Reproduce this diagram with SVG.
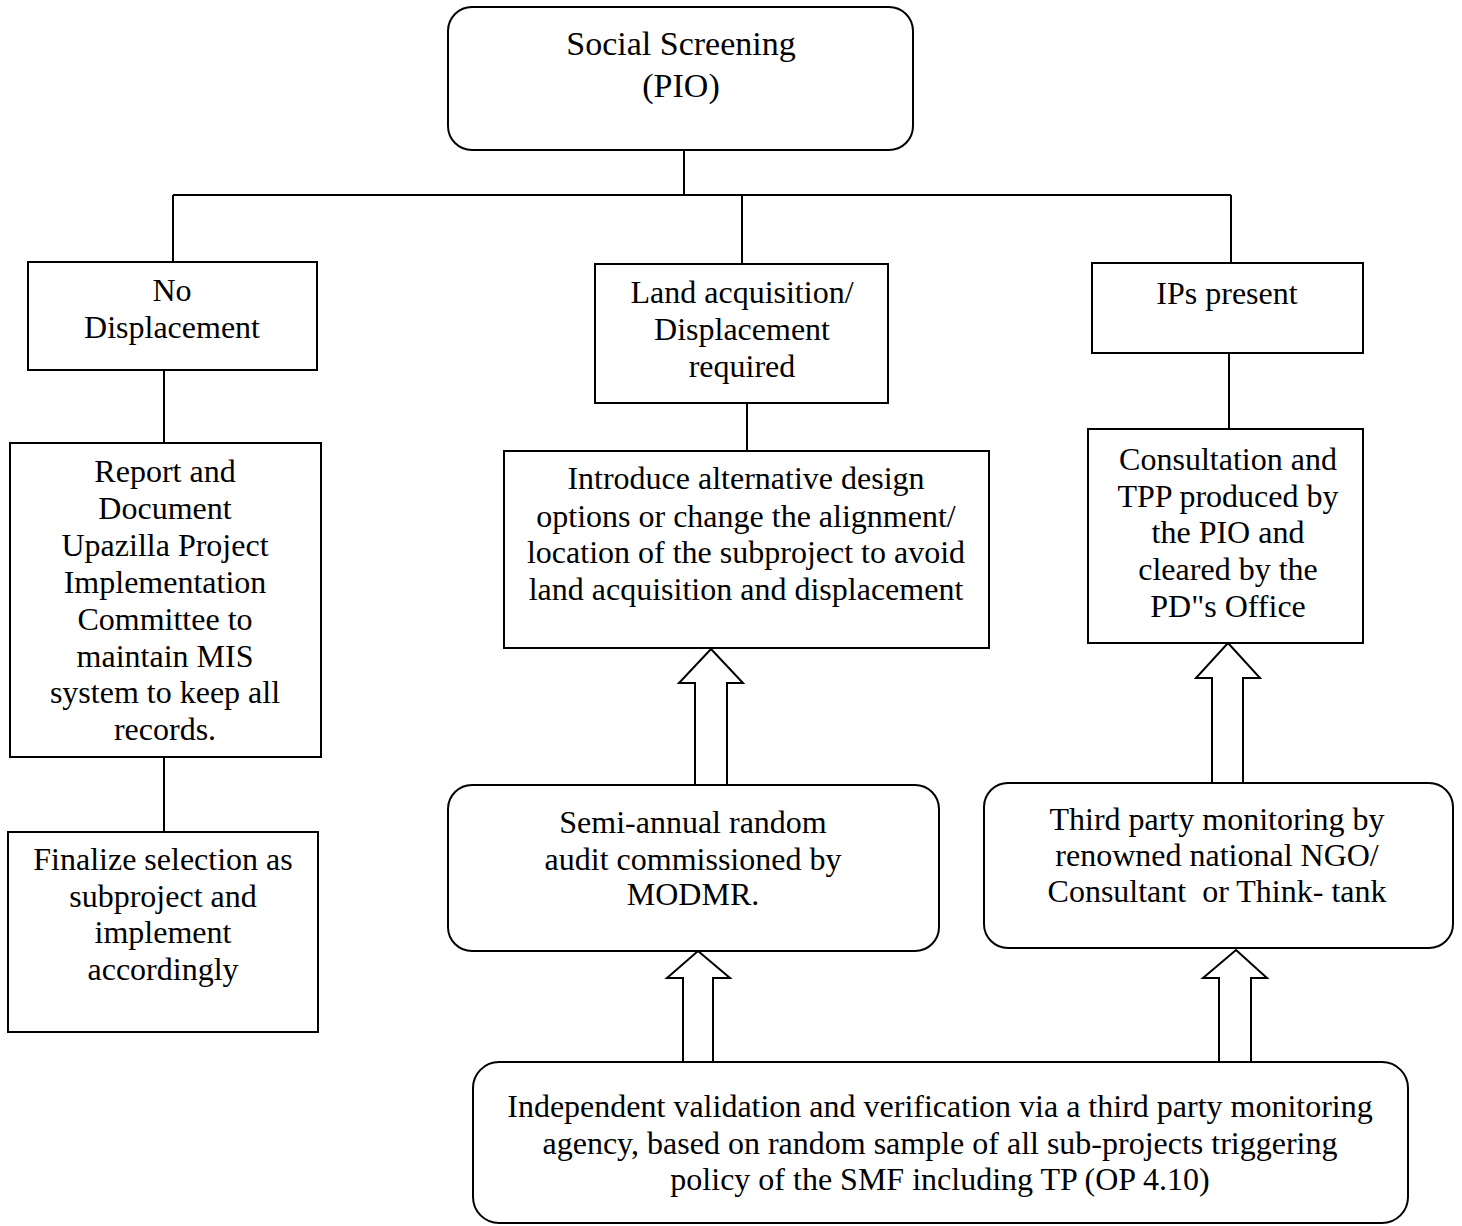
<svg xmlns="http://www.w3.org/2000/svg" width="1462" height="1226" viewBox="0 0 1462 1226">
<style>
.box{fill:#fff;stroke:#000;stroke-width:2}
.ln{fill:none;stroke:#000;stroke-width:2}
.ar{fill:#fff;stroke:#000;stroke-width:2;stroke-linejoin:miter}
text{font-family:"Liberation Serif","Times New Roman",serif;font-size:32px;fill:#000;text-anchor:middle}
</style>
<rect width="1462" height="1226" fill="#fff"/>
<g id="connectors">
<path class="ln" d="M684 150V195M173 195H1231M173 195V262M742 195V264M1231 195V263"/>
<path class="ln" d="M164 370V443M164 757V832M747 403V451M1229 353V429"/>
<polygon class="ar" points="711,649 743,683 727,683 727,785 695,785 695,683 679,683"/>
<polygon class="ar" points="698,951 730,978 713,978 713,1062 683,1062 683,978 667,978"/>
<polygon class="ar" points="1228,643 1260,678 1243,678 1243,783 1212,783 1212,678 1196,678"/>
<polygon class="ar" points="1236,950 1267,978 1251,978 1251,1062 1219,1062 1219,978 1203,978"/>
</g>
<g id="social-screening">
<rect class="box" x="448" y="7" width="465" height="143" rx="24"/>
<text x="681" y="55" style="font-size:34px">Social Screening</text>
<text x="681" y="97" style="font-size:34px">(PIO)</text>
</g>
<g id="no-displacement">
<rect class="box" x="28" y="262" width="289" height="108"/>
<text x="172" y="301">No</text>
<text x="172" y="338">Displacement</text>
</g>
<g id="land-acquisition">
<rect class="box" x="595" y="264" width="293" height="139"/>
<text x="742" y="303">Land acquisition/</text>
<text x="742" y="340">Displacement</text>
<text x="742" y="377">required</text>
</g>
<g id="ips-present">
<rect class="box" x="1092" y="263" width="271" height="90"/>
<text x="1227" y="304">IPs present</text>
</g>
<g id="report">
<rect class="box" x="10" y="443" width="311" height="314"/>
<text x="165" y="482">Report and</text>
<text x="165" y="519">Document</text>
<text x="165" y="556">Upazilla Project</text>
<text x="165" y="593">Implementation</text>
<text x="165" y="630">Committee to</text>
<text x="165" y="667">maintain MIS</text>
<text x="165" y="703">system to keep all</text>
<text x="165" y="740">records.</text>
</g>
<g id="finalize">
<rect class="box" x="8" y="832" width="310" height="200"/>
<text x="163" y="870">Finalize selection as</text>
<text x="163" y="907">subproject and</text>
<text x="163" y="943">implement</text>
<text x="163" y="980">accordingly</text>
</g>
<g id="introduce">
<rect class="box" x="504" y="451" width="485" height="197"/>
<text x="746" y="489">Introduce alternative design</text>
<text x="746" y="527">options or change the alignment/</text>
<text x="746" y="563">location of the subproject to avoid</text>
<text x="746" y="600">land acquisition and displacement</text>
</g>
<g id="consultation">
<rect class="box" x="1088" y="429" width="275" height="214"/>
<text x="1228" y="470">Consultation and</text>
<text x="1228" y="507">TPP produced by</text>
<text x="1228" y="543">the PIO and</text>
<text x="1228" y="580">cleared by the</text>
<text x="1228" y="617">PD"s Office</text>
</g>
<g id="semi-annual">
<rect class="box" x="448" y="785" width="491" height="166" rx="24"/>
<text x="693" y="833">Semi-annual random</text>
<text x="693" y="870">audit commissioned by</text>
<text x="693" y="905">MODMR.</text>
</g>
<g id="third-party">
<rect class="box" x="984" y="783" width="469" height="165" rx="24"/>
<text x="1217" y="830">Third party monitoring by</text>
<text x="1217" y="866">renowned national NGO/</text>
<text x="1217" y="902" xml:space="preserve">Consultant  or Think- tank</text>
</g>
<g id="independent">
<rect class="box" x="473" y="1062" width="935" height="161" rx="26"/>
<text x="940" y="1117">Independent validation and verification via a third party monitoring</text>
<text x="940" y="1154">agency, based on random sample of all sub-projects triggering</text>
<text x="940" y="1190">policy of the SMF including TP (OP 4.10)</text>
</g>
</svg>
